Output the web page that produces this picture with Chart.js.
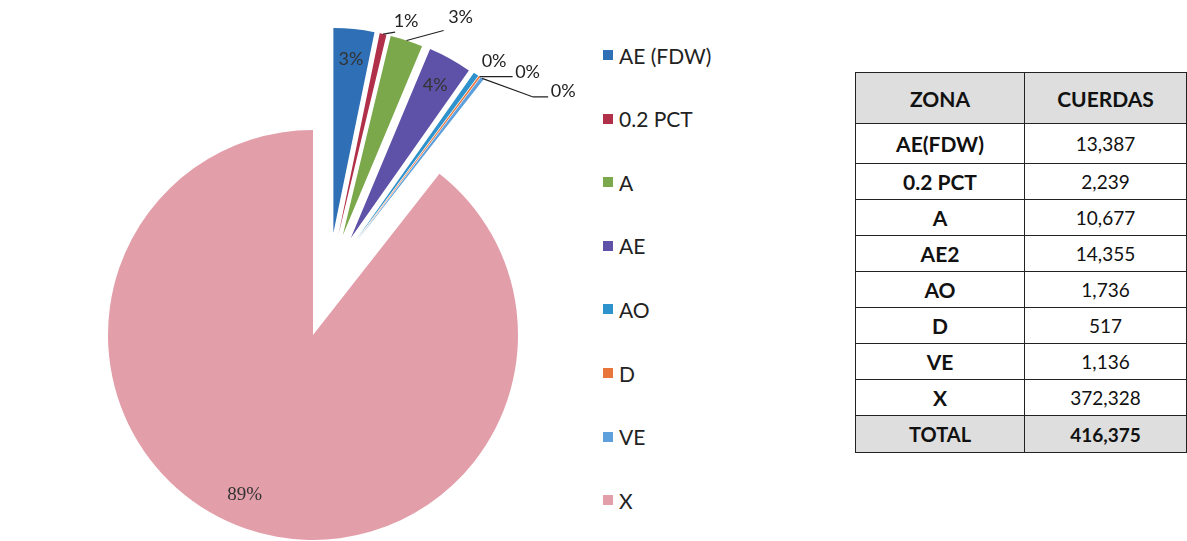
<!DOCTYPE html>
<html>
<head>
<meta charset="utf-8">
<script src="https://cdn.jsdelivr.net/npm/chart.js@4.4.1/dist/chart.umd.min.js"></script>
<style>
  body { margin: 0; background: #fff; width: 1187px; height: 541px; overflow: hidden; position: relative; font-family: Lato, sans-serif; }
  #caja { position: absolute; left: 0; top: 0; width: 600px; height: 541px; }
  .item { position: absolute; left: 603px; height: 24px; font-size: 21px; color: #222; display: flex; align-items: center; white-space: nowrap; }
  .item span { width: 10px; height: 10px; margin-right: 6px; display: inline-block; }
  table { position: absolute; left: 855px; top: 72px; width: 332px; border-collapse: collapse; }
  td, th { border: 1.5px solid #222; text-align: center; font-size: 19px; padding: 0; color: #111; }
  th { background: #dedede; font-weight: bold; font-size: 21px; height: 50px; }
  td.zona { font-weight: bold; font-size: 21px; width: 168px; }
  tr.total td { background: #dedede; font-weight: bold; }
  tr.total td.zona { font-size: 20px; }
</style>
</head>
<body>
<div id="caja"><canvas id="torta"></canvas></div>
<div id="leyenda"></div>
<table id="tabla"></table>
<script>
// Datos -------------------------------------------------------------------

const categorias = ['AE (FDW)', '0.2 PCT', 'A', 'AE', 'AO', 'D', 'VE', 'X'];
const zonas = ['AE(FDW)', '0.2 PCT', 'A', 'AE2', 'AO', 'D', 'VE', 'X'];
const cuerdas = [13387, 2239, 10677, 14355, 1736, 517, 1136, 372328];
const porcentajes = ['3%', '1%', '3%', '4%', '0%', '0%', '0%', '89%'];
const total = 416375;

const colores = ['#2f6fb5', '#b0304a', '#7ba84a', '#5e52a8', '#2e93cc', '#e8753a', '#5ea0dc', '#e29ea9'];

const RADIO = 205;
const SEPARACION = 104;   // cuanto se separan los sectores chicos
const COMPRESION = 0.433; // los sectores salen casi todos hacia el mismo lado
const SESGO = -2 * Math.PI / 180;

// el offset de Chart.js achica los sectores angostos, asi que se desplazan aca
function desplazamiento(arcos, i) {
  const ultimo = categorias.length - 1;
  if (i == ultimo) return [0, 0];
  const grupo = (arcos[0].startAngle + arcos[ultimo - 1].endAngle) / 2;
  const medio = (arcos[i].startAngle + arcos[i].endAngle) / 2;
  const ang = grupo + COMPRESION * (medio - grupo) + SESGO;
  return [Math.cos(ang) * SEPARACION, Math.sin(ang) * SEPARACION];
}

const separar = {
  id: 'separar',
  afterDatasetUpdate(chart) {
    const arcos = chart.getDatasetMeta(0).data;
    arcos.forEach((arco, i) => {
      if (arco._separado) return;
      arco._separado = true;
      const dibujar = arco.draw;
      arco.draw = function (ctx, area) {
        const [dx, dy] = desplazamiento(arcos, i);
        ctx.save();
        ctx.translate(dx, dy);
        dibujar.call(this, ctx, area);
        ctx.restore();
      };
    });
  }
};

// Etiquetas de porcentaje -------------------------------------------------

// guias: puntos de la linea y posicion del texto, relativos a la punta del sector
const guias = {
  1: { linea: [[12, -2]], texto: [23, -13] },
  2: { linea: [[37, -10]], texto: [54, -23] },
  4: { linea: [], texto: [18, -13] },
  5: { linea: [[33, 0]], texto: [48, -4] },
  6: { linea: [[51, 18.6], [66, 18.6]], texto: [81, 12.6] }
};

const etiquetas = {
  id: 'etiquetas',
  afterDatasetsDraw(chart) {
    const ctx = chart.ctx;
    const arcos = chart.getDatasetMeta(0).data;
    const R = RADIO;
    ctx.save();
    ctx.textAlign = 'center';
    ctx.textBaseline = 'middle';
    arcos.forEach((arco, i) => {
      let medio = (arco.startAngle + arco.endAngle) / 2;
      const [dx, dy] = desplazamiento(arcos, i);
      const cx = arco.x + dx;
      const cy = arco.y + dy;
      const g = guias[i];
      if (!g) {
        if (i == 7) medio += 0.07;
        ctx.font = i == 7 ? '19px "Liberation Serif"' : '18px Lato';
        ctx.fillStyle = '#333';
        ctx.fillText(porcentajes[i], cx + Math.cos(medio) * R * 0.85, cy + Math.sin(medio) * R * 0.85);
        return;
      }
      const px = cx + Math.cos(medio) * R;
      const py = cy + Math.sin(medio) * R;
      ctx.strokeStyle = '#222';
      ctx.lineWidth = 1.2;
      if (g.linea.length) {
        ctx.beginPath();
        ctx.moveTo(px, py);
        g.linea.forEach(p => ctx.lineTo(px + p[0], py + p[1]));
        ctx.stroke();
      }
      ctx.font = '18px Lato';
      ctx.fillStyle = '#222';
      ctx.fillText(porcentajes[i], px + g.texto[0], py + g.texto[1]);
    });
    ctx.restore();
  }
};

// Grafico de torta --------------------------------------------------------

const grafico = new Chart(document.getElementById('torta'), {
  type: 'pie',
  data: {
    labels: categorias,
    datasets: [{
      data: cuerdas,
      backgroundColor: colores,
      borderWidth: 0,
      clip: false
    }]
  },
  options: {
    responsive: true,
    maintainAspectRatio: false,
    animation: false,
    events: [],
    radius: RADIO,
    layout: { padding: { left: 26, top: 129 } },
    plugins: {
      legend: { display: false },
      tooltip: { enabled: false }
    }
  },
  plugins: [separar, etiquetas]
});

// Leyenda -----------------------------------------------------------------

const leyenda = document.getElementById('leyenda');
categorias.forEach((cat, i) => {
  const item = document.createElement('div');
  item.className = 'item';
  item.style.top = (55 + i * 63.6 - 12) + 'px';
  item.innerHTML = '<span style="background:' + colores[i] + '"></span>' + cat;
  leyenda.appendChild(item);
});

// Tabla -------------------------------------------------------------------

const tabla = document.getElementById('tabla');
let html = '<tr><th>ZONA</th><th>CUERDAS</th></tr>';
zonas.forEach((z, i) => {
  const alto = i == 0 ? 40 : 36;
  html += '<tr style="height:' + alto + 'px"><td class="zona">' + z + '</td><td>' + cuerdas[i].toLocaleString('en-US') + '</td></tr>';
});
html += '<tr class="total" style="height:37px"><td class="zona">TOTAL</td><td>' + total.toLocaleString('en-US') + '</td></tr>';
tabla.innerHTML = html;
</script>
</body>
</html>
